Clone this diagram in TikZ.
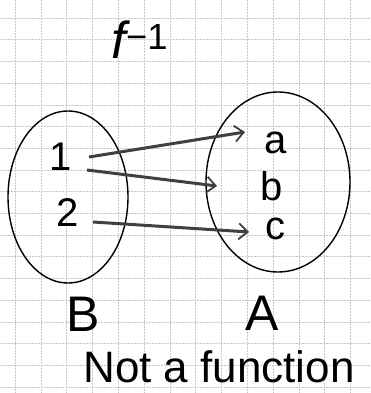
\documentclass[tikz,border=0pt]{standalone}
\usepackage{fontspec}
\setmainfont{Liberation Sans}
\usetikzlibrary{arrows.meta,calc}
\begin{document}
\begin{tikzpicture}[x=1pt,y=-1pt,
  gridline/.style={gray!45, densely dotted, line width=0.5pt},
  setline/.style={black, line width=1.4pt},
  maparrow/.style={-{Straight Barb[length=9pt,width=16pt,line width=1.8pt]}, line width=3pt, black!75},
  elem/.style={font=\fontsize{40}{40}\selectfont, inner sep=0pt},
  setname/.style={font=\fontsize{50}{50}\selectfont, inner sep=0pt},
  caption/.style={font=\fontsize{44}{44}\selectfont, inner sep=0pt}]
\useasboundingbox (0,0) rectangle (371,393);
\fill[white] (0,0) rectangle (371,393);
\foreach \i in {0,...,13} \draw[gridline] ({15+25.8*\i},0) -- ({15+25.8*\i},393);
\foreach \j in {0,...,17} \draw[gridline] (0,{18+21.7*\j}) -- (371,{18+21.7*\j});
% title
\node[font=\fontsize{52}{52}\selectfont, inner sep=0pt] (title) at (140,40) {\itshape f\textsuperscript{\upshape −1}};
% sets
\draw[setline] (68,197) ellipse [x radius=60pt, y radius=86pt];
\draw[setline] (278,182) ellipse [x radius=72pt, y radius=90pt];
% elements
\node[elem] (n1) at (61,157) {1};
\node[elem] (n2) at (68,213) {2};
\node[elem] (na) at (276,143) {a};
\node[elem] (nb) at (272,186) {b};
\node[elem] (nc) at (275,229) {c};
% set names
\node[setname] (B) at (83,314) {B};
\node[setname] (A) at (262,313) {A};
\node[caption] (note) at (219,367) {Not a function};
% arrows
\draw[maparrow] ($(n1)+(28,0)$) -- ($(na)+(-31,-11)$);
\draw[maparrow] ($(n1)+(26,13)$) -- ($(nb)+(-55,0)$);
\draw[maparrow] ($(n2)+(25,9)$) -- ($(nc)+(-26,3)$);
\end{tikzpicture}
\end{document}
